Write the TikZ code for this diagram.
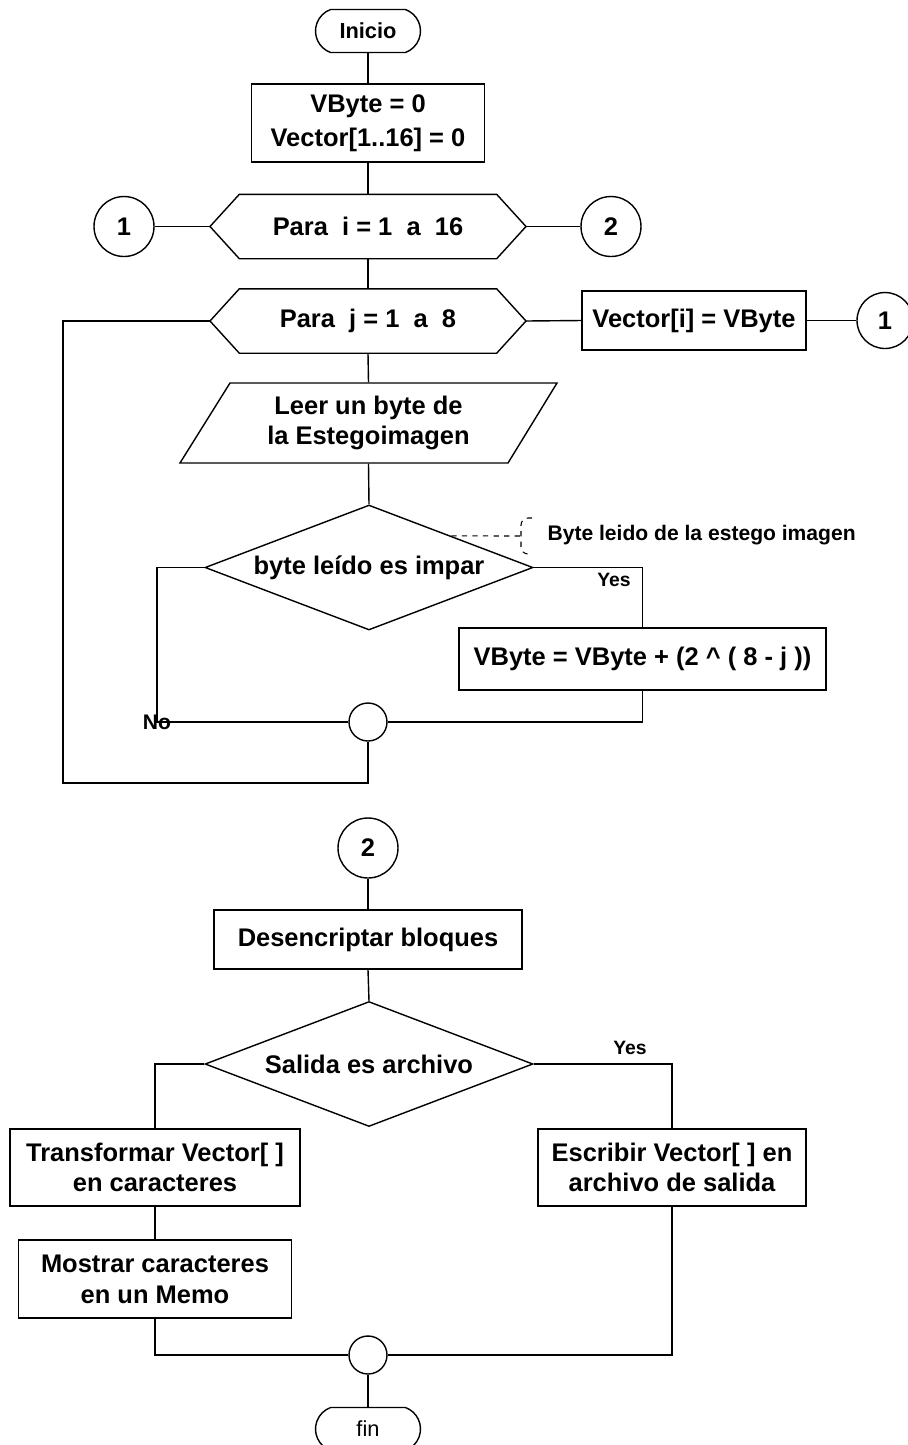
\documentclass[tikz,border=0pt]{standalone}
\usepackage{fontspec}
\setmainfont{Liberation Sans}
\usetikzlibrary{shapes.misc,shapes.geometric}

\begin{document}
\begin{tikzpicture}[x=0.02cm,y=-0.02cm,line width=.8pt,
  every node/.style={font=\bfseries\fontsize{14.5}{17.5}\selectfont},
  proc/.style={draw,rectangle,align=center,inner sep=0pt},
  term/.style={draw,rounded rectangle,rounded rectangle arc length=140,minimum width=2.1cm,minimum height=0.86cm,inner sep=0pt,font=\bfseries\fontsize{12.4}{14}\selectfont},
  hexbody/.style={rectangle,inner sep=0pt,minimum width=5.12cm,minimum height=1.26cm},
  loopend/.style={draw,circle,minimum size=1.2cm,inner sep=0pt},
  joint/.style={draw,circle,minimum size=0.76cm,inner sep=0pt},
  decision/.style={draw,diamond,aspect=2.62,minimum width=6.56cm,minimum height=2.5cm,inner sep=0pt,align=center},
  tag/.style={font=\bfseries\fontsize{11}{13}\selectfont}]
\useasboundingbox (0,0) rectangle (907,1445);
% first loop
\node[term] (inicio) at (368,31) {Inicio};
\node[proc,minimum width=4.66cm,minimum height=1.56cm] (init) at (368,123) {VByte = 0\\[2pt]Vector[1..16] = 0};
\node[hexbody] (fori) at (368,226.5) {Para\ \ i = 1\ \ a\ \ 16};
\coordinate (fori-l) at (210,226.5);
\coordinate (fori-r) at (526,226.5);
\draw (fori.north west) -- (fori.north east) -- (fori-r) -- (fori.south east) -- (fori.south west) -- (fori-l) -- cycle;
\node[loopend] (c1a) at (124,226.5) {1};
\node[loopend] (c2a) at (611,226.5) {2};
\node[hexbody] (forj) at (368,321) {Para\ \ j = 1\ \ a\ \ 8};
\coordinate (forj-l) at (210,321);
\coordinate (forj-r) at (526,321);
\draw (forj.north west) -- (forj.north east) -- (forj-r) -- (forj.south east) -- (forj.south west) -- (forj-l) -- cycle;
\node[proc,minimum width=4.48cm,minimum height=1.18cm] (store) at (694,320.5) {Vector[i] = VByte};
\node[loopend,minimum size=1.12cm] (c1b) at (885,320.5) {1};
\node[rectangle,inner sep=0pt,minimum width=6.54cm,minimum height=1.6cm,align=center] (leer) at (368.5,423) {Leer un byte de\\la Estegoimagen};
\coordinate (p0) at (230,383);
\coordinate (p1) at (557,383);
\coordinate (p2) at (508,463);
\coordinate (p3) at (180,463);
\draw (p0) -- (p1) -- (p2) -- (p3) -- cycle;
\node[decision] (impar) at (369,567.5) {byte leído es impar};
% note
\coordinate (brk) at (521,536);
\draw[dashed,line width=.6pt] (impar.north east) -- (brk);
\draw[dashed,line width=.6pt,rounded corners=4pt] (532,518) -| (brk) |- (532,554);
\node[anchor=west,font=\bfseries\fontsize{12}{14}\selectfont] (nota) at (541,535) {Byte leido de la estego imagen};
\node[tag] (yes1) at (614,580) {Yes};
\node[proc,minimum width=7.34cm,minimum height=1.24cm] (suma) at (642.5,659) {VByte = VByte + (2 \textasciicircum\ ( 8 - j ))};
\node[joint] (jn1) at (368,722) {};
\coordinate (nocorner) at (157,722);
\coordinate (back) at (63,783);
\draw (inicio.south) -- (init.north);
\draw (init.south) -- (fori.north);
\draw (fori.south) -- (forj.north);
\draw (forj.south) -- (leer.north);
\draw (leer.south) -- (impar.north);
\draw (c1a.east) -- (fori-l);
\draw (fori-r) -- (c2a.west);
\draw (forj-r) -- (store.west);
\draw (store.east) -- (c1b.west);
\draw (impar.east) -| (suma.north);
\draw (suma.south) |- (jn1.east);
\draw (impar.west) -| (nocorner) -- (jn1.west);
\draw (jn1.south) |- (back) |- (forj-l);
\node[font=\bfseries\fontsize{12}{14}\selectfont] (no) at (nocorner) {No};
% output part
\node[loopend] (c2b) at (368,848) {2};
\node[proc,minimum width=6.16cm,minimum height=1.18cm] (desc) at (368,939.5) {Desencriptar bloques};
\node[decision] (salida) at (369,1064) {Salida es archivo};
\node[tag] (yes2) at (630,1048) {Yes};
\node[proc,minimum width=5.8cm,minimum height=1.54cm] (transf) at (155,1167.5) {Transformar Vector[ ]\\en caracteres};
\node[proc,minimum width=5.46cm,minimum height=1.56cm] (mostrar) at (155,1279) {Mostrar caracteres\\en un Memo};
\node[proc,minimum width=5.36cm,minimum height=1.54cm] (escribir) at (672,1167.5) {Escribir Vector[ ] en\\archivo de salida};
\node[joint] (jn2) at (368,1355) {};
\node[term,font=\fontsize{12.4}{14}\selectfont] (fin) at (368,1429) {fin};
\draw (c2b.south) -- (desc.north);
\draw (desc.south) -- (salida.north);
\draw (salida.west) -| (transf.north);
\draw (salida.east) -| (escribir.north);
\draw (transf.south) -- (mostrar.north);
\draw (mostrar.south) |- (jn2.west);
\draw (escribir.south) |- (jn2.east);
\draw (jn2.south) -- (fin.north);
\end{tikzpicture}
\end{document}
